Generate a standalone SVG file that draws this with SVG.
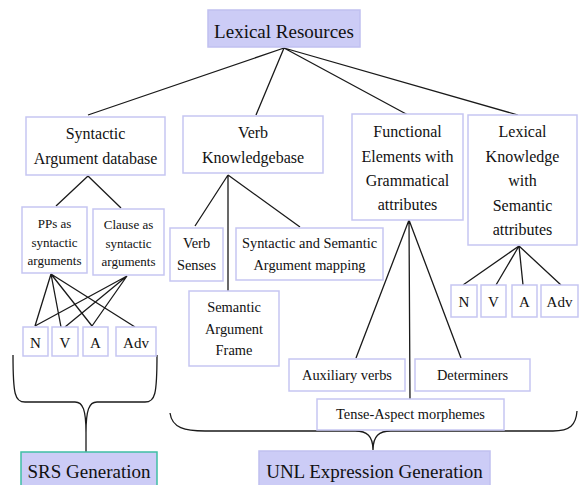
<svg xmlns="http://www.w3.org/2000/svg" width="579" height="485" viewBox="0 0 579 485" font-family="Liberation Serif">
<style>
.b{fill:#fff;stroke:#c6c6f2;stroke-width:1.5}
.h{fill:#ccccf6;stroke:#c0c0f0;stroke-width:1.5}
.c{fill:none;stroke:#1a1a1a;stroke-width:1.3}
</style>
<rect width="579" height="485" fill="#fff"/>
<g id="connectors">
<path class="c" d="M284,48 L88,115 M284,48 L256,115 M284,48 L408,115 M284,48 L518,115"/>
<path class="c" d="M88,176 L56,206 M88,176 L121,208"/>
<path class="c" d="M51,274 L35,326 M51,274 L61,327 M51,274 L92,326 M51,274 L135,327 M127,276 L35,326 M127,276 L65,327 M127,276 L92,326"/>
<path class="c" d="M228,175 L195,226 M228,175 L228,291 M228,175 L300,227"/>
<path class="c" d="M409,220 L356,358 M409,220 L410,399 M409,220 L461,358"/>
<path class="c" d="M519,246 L463,285 M519,246 L496,285 M519,246 L523,285 M519,246 L561,285"/>
<path class="c" d="M13,355 C13,395 15,402 25,402 L75,402 C83,402 86,410 86,433 C86,410 89,402 97,402 L145,402 C155,402 157,395 157,355 M86,433 L86,452"/>
<path class="c" d="M170,413 C172,428 185,431 205,431 L355,431 C367,431 373,436 373,450 C373,436 379,431 391,431 L553,431 C570,431 576,425 577,411"/>
</g>
<g id="lexical-resources"><rect class="h" x="208" y="10" width="152" height="37"/><text style="font-family:'Liberation Serif',serif" font-size="19" fill="#111" text-anchor="middle" x="284" y="38">Lexical Resources</text></g>
<g id="syntactic-argument-database"><rect class="b" x="26" y="117" width="139" height="58"/><text style="font-family:'Liberation Serif',serif" font-size="16" fill="#111" text-anchor="middle" x="95.5" y="139">Syntactic</text><text style="font-family:'Liberation Serif',serif" font-size="16" fill="#111" text-anchor="middle" x="95.5" y="164">Argument database</text></g>
<g id="verb-knowledgebase"><rect class="b" x="183" y="116" width="140" height="57"/><text style="font-family:'Liberation Serif',serif" font-size="16" fill="#111" text-anchor="middle" x="253" y="138">Verb</text><text style="font-family:'Liberation Serif',serif" font-size="16" fill="#111" text-anchor="middle" x="253" y="163">Knowledgebase</text></g>
<g id="functional-elements"><rect class="b" x="352" y="114" width="111" height="106"/><text style="font-family:'Liberation Serif',serif" font-size="16" fill="#111" text-anchor="middle" x="407.5" y="137">Functional</text><text style="font-family:'Liberation Serif',serif" font-size="16" fill="#111" text-anchor="middle" x="407.5" y="162">Elements with</text><text style="font-family:'Liberation Serif',serif" font-size="16" fill="#111" text-anchor="middle" x="407.5" y="186">Grammatical</text><text style="font-family:'Liberation Serif',serif" font-size="16" fill="#111" text-anchor="middle" x="407.5" y="210">attributes</text></g>
<g id="lexical-knowledge"><rect class="b" x="468" y="115" width="109" height="130"/><text style="font-family:'Liberation Serif',serif" font-size="16" fill="#111" text-anchor="middle" x="522.5" y="137">Lexical</text><text style="font-family:'Liberation Serif',serif" font-size="16" fill="#111" text-anchor="middle" x="522.5" y="161.5">Knowledge</text><text style="font-family:'Liberation Serif',serif" font-size="16" fill="#111" text-anchor="middle" x="522.5" y="186">with</text><text style="font-family:'Liberation Serif',serif" font-size="16" fill="#111" text-anchor="middle" x="522.5" y="210.5">Semantic</text><text style="font-family:'Liberation Serif',serif" font-size="16" fill="#111" text-anchor="middle" x="522.5" y="235">attributes</text></g>
<g id="pps-as-syntactic-arguments"><rect class="b" x="22" y="207" width="65" height="66"/><text style="font-family:'Liberation Serif',serif" font-size="13" fill="#111" text-anchor="middle" x="54.5" y="228">PPs as</text><text style="font-family:'Liberation Serif',serif" font-size="13" fill="#111" text-anchor="middle" x="54.5" y="246.5">syntactic</text><text style="font-family:'Liberation Serif',serif" font-size="13" fill="#111" text-anchor="middle" x="54.5" y="265">arguments</text></g>
<g id="clause-as-syntactic-arguments"><rect class="b" x="93" y="209" width="71" height="66"/><text style="font-family:'Liberation Serif',serif" font-size="13" fill="#111" text-anchor="middle" x="128.5" y="229">Clause as</text><text style="font-family:'Liberation Serif',serif" font-size="13" fill="#111" text-anchor="middle" x="128.5" y="247.5">syntactic</text><text style="font-family:'Liberation Serif',serif" font-size="13" fill="#111" text-anchor="middle" x="128.5" y="266">arguments</text></g>
<g id="left-n"><rect class="b" x="23" y="327" width="25" height="29"/><text style="font-family:'Liberation Serif',serif" font-size="15" fill="#111" text-anchor="middle" x="35.5" y="348">N</text></g>
<g id="left-v"><rect class="b" x="52" y="327" width="26" height="29"/><text style="font-family:'Liberation Serif',serif" font-size="15" fill="#111" text-anchor="middle" x="65" y="348">V</text></g>
<g id="left-a"><rect class="b" x="83" y="327" width="25" height="29"/><text style="font-family:'Liberation Serif',serif" font-size="15" fill="#111" text-anchor="middle" x="95.5" y="348">A</text></g>
<g id="left-adv"><rect class="b" x="116" y="327" width="40" height="29"/><text style="font-family:'Liberation Serif',serif" font-size="15" fill="#111" text-anchor="middle" x="136" y="348">Adv</text></g>
<g id="verb-senses"><rect class="b" x="170" y="228" width="53" height="53"/><text style="font-family:'Liberation Serif',serif" font-size="14.4" fill="#111" text-anchor="middle" x="196.5" y="248">Verb</text><text style="font-family:'Liberation Serif',serif" font-size="14.4" fill="#111" text-anchor="middle" x="196.5" y="270">Senses</text></g>
<g id="syntactic-semantic-mapping"><rect class="b" x="236" y="228" width="147" height="52"/><text style="font-family:'Liberation Serif',serif" font-size="14.4" fill="#111" text-anchor="middle" x="309.5" y="248">Syntactic and Semantic</text><text style="font-family:'Liberation Serif',serif" font-size="14.4" fill="#111" text-anchor="middle" x="309.5" y="270">Argument mapping</text></g>
<g id="semantic-argument-frame"><rect class="b" x="189" y="291" width="90" height="75"/><text style="font-family:'Liberation Serif',serif" font-size="14.4" fill="#111" text-anchor="middle" x="234" y="312">Semantic</text><text style="font-family:'Liberation Serif',serif" font-size="14.4" fill="#111" text-anchor="middle" x="234" y="334">Argument</text><text style="font-family:'Liberation Serif',serif" font-size="14.4" fill="#111" text-anchor="middle" x="234" y="355">Frame</text></g>
<g id="right-n"><rect class="b" x="451" y="285" width="26" height="32"/><text style="font-family:'Liberation Serif',serif" font-size="15" fill="#111" text-anchor="middle" x="464" y="307">N</text></g>
<g id="right-v"><rect class="b" x="481" y="285" width="25" height="32"/><text style="font-family:'Liberation Serif',serif" font-size="15" fill="#111" text-anchor="middle" x="493.5" y="307">V</text></g>
<g id="right-a"><rect class="b" x="512" y="285" width="25" height="32"/><text style="font-family:'Liberation Serif',serif" font-size="15" fill="#111" text-anchor="middle" x="524.5" y="307">A</text></g>
<g id="right-adv"><rect class="b" x="541" y="285" width="37" height="32"/><text style="font-family:'Liberation Serif',serif" font-size="15" fill="#111" text-anchor="middle" x="559.5" y="307">Adv</text></g>
<g id="auxiliary-verbs"><rect class="b" x="289" y="359" width="116" height="32"/><text style="font-family:'Liberation Serif',serif" font-size="14.4" fill="#111" text-anchor="middle" x="347" y="380">Auxiliary verbs</text></g>
<g id="determiners"><rect class="b" x="415" y="359" width="115" height="32"/><text style="font-family:'Liberation Serif',serif" font-size="14.4" fill="#111" text-anchor="middle" x="472.5" y="380">Determiners</text></g>
<g id="tense-aspect-morphemes"><rect class="b" x="317" y="399" width="187" height="31"/><text style="font-family:'Liberation Serif',serif" font-size="14.4" fill="#111" text-anchor="middle" x="410.5" y="419">Tense-Aspect morphemes</text></g>
<g id="srs-generation"><rect x="21" y="452" width="136" height="40" fill="#ccccf6" stroke="#3fbfa5" stroke-width="1.5"/><text style="font-family:'Liberation Serif',serif" font-size="19" fill="#111" text-anchor="middle" x="89" y="478">SRS Generation</text></g>
<g id="unl-expression-generation"><rect class="h" x="259" y="451" width="231" height="40"/><text style="font-family:'Liberation Serif',serif" font-size="19" fill="#111" text-anchor="middle" x="374.5" y="478">UNL Expression Generation</text></g>
</svg>
